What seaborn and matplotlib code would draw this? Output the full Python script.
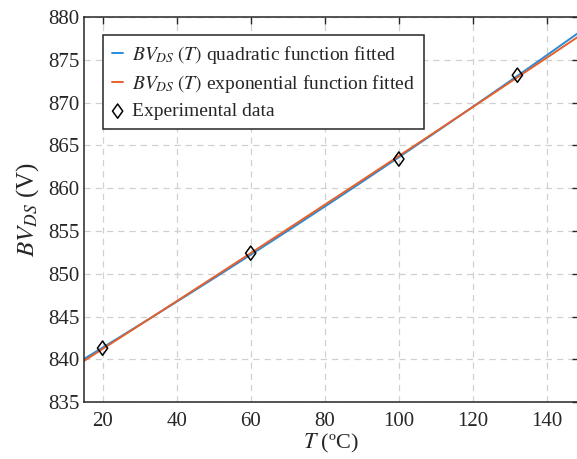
import numpy as np
import pandas as pd
import matplotlib
matplotlib.use("Agg")
import matplotlib.pyplot as plt
from matplotlib.path import Path
import seaborn as sns

# Measured breakdown voltage versus temperature
temperature_c = [20, 60, 100, 132]
bv_ds_measured = [841.3, 852.4, 863.4, 873.2]

x_ticks = [20, 40, 60, 80, 100, 120, 140]
y_ticks = [835, 840, 845, 850, 855, 860, 865, 870, 875, 880]

# Fits computed from the measured points
t_arr = np.asarray(temperature_c, dtype=float)
bv_arr = np.asarray(bv_ds_measured, dtype=float)
quad_coef = np.polyfit(t_arr, bv_arr, 2)
exp_coef = np.polyfit(t_arr, np.log(bv_arr), 1)

t_grid = np.linspace(15, 149, 200)
fit_df = pd.DataFrame({
    "T": np.concatenate([t_grid, t_grid]),
    "BV": np.concatenate([np.polyval(quad_coef, t_grid),
                          np.exp(np.polyval(exp_coef, t_grid))]),
    "fit": ["quadratic"] * len(t_grid) + ["exponential"] * len(t_grid),
})
data_df = pd.DataFrame({"T": temperature_c, "BV": bv_ds_measured})

sns.set_theme(style="white")
plt.rcParams["font.family"] = ["Liberation Serif", "DejaVu Serif"]
plt.rcParams["mathtext.fontset"] = "stix"

fig = plt.figure(figsize=(5.77, 4.59), dpi=100)
ax = fig.add_axes([0.1456, 0.124, 0.857, 0.839])

blue = "#2b8ad6"
orange = "#e5602a"

# diamond a bit wider than matplotlib's thin diamond
diamond = Path([(0, 1), (0.72, 0), (0, -1), (-0.72, 0), (0, 1)],
               [Path.MOVETO, Path.LINETO, Path.LINETO, Path.LINETO,
                Path.CLOSEPOLY])

sns.lineplot(data=fit_df[fit_df["fit"] == "quadratic"], x="T", y="BV", ax=ax,
             color=blue, lw=1.4,
             label=r"$BV_{DS}\;(T)$ quadratic function fitted")
sns.lineplot(data=fit_df[fit_df["fit"] == "exponential"], x="T", y="BV", ax=ax,
             color=orange, lw=1.4,
             label=r"$BV_{DS}\;(T)$ exponential function fitted")
sns.scatterplot(data=data_df, x="T", y="BV", ax=ax, marker=diamond, s=105,
                facecolor="none", edgecolor="black", linewidth=1.1,
                label="Experimental data", zorder=5)

ax.set_xlim(15, 148.5)
ax.set_ylim(835, 880)
ax.set_xticks(x_ticks)
ax.set_yticks(y_ticks)
ax.tick_params(direction="in", length=5, width=1, top=True, right=True,
               labelsize=15, colors="#262626")
ax.tick_params(axis="x", pad=7)
ax.grid(True, ls=(0, (5, 4)), color="#d0d0d0", lw=0.9)
for s in ax.spines.values():
    s.set_color("#262626")
    s.set_linewidth(1.1)

ax.set_xlabel("$T$ (\u00baC)", fontsize=16, labelpad=1)
ax.set_ylabel(r"$BV_{DS}$ (V)", fontsize=18, labelpad=5)

leg = ax.legend(loc="upper left", bbox_to_anchor=(0.0385, 0.953),
                borderaxespad=0, fontsize=14, handlelength=0.6,
                handletextpad=0.45, labelspacing=0.38, borderpad=0.45,
                fancybox=False, framealpha=1, edgecolor="#262626")
leg.get_frame().set_linewidth(1.1)

fig.savefig("out.png", dpi=100)
